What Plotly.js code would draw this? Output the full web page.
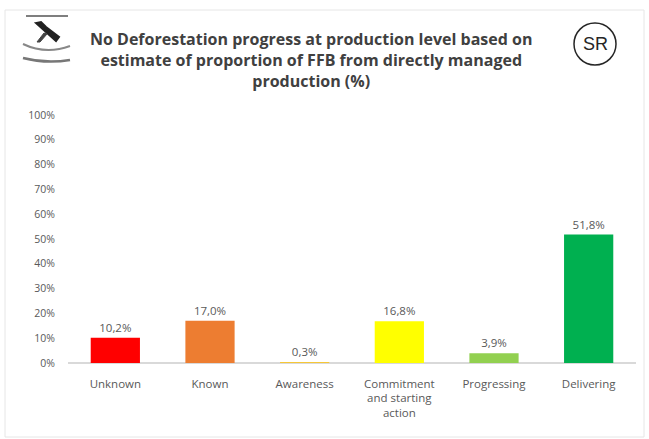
<!DOCTYPE html>
<html>
<head>
<meta charset="utf-8">
<script src="https://cdn.plot.ly/plotly-3.0.1.min.js"></script>
<style>html,body{margin:0;padding:0;background:#fff;}#chart{width:649px;height:439px;}</style>
</head>
<body>
<div id="chart"></div>
<script>
const categories = ["Unknown", "Known", "Awareness", "Commitment<br>and starting<br>action", "Progressing", "Delivering"];
const values = [0.102, 0.170, 0.003, 0.168, 0.039, 0.518];
const labels = ["10,2%", "17,0%", "0,3%", "16,8%", "3,9%", "51,8%"];
const colors = ["#FF0000", "#ED7D31", "#FFC000", "#FFFF00", "#92D050", "#00B050"];
const yTickVals = [0, 0.1, 0.2, 0.3, 0.4, 0.5, 0.6, 0.7, 0.8, 0.9, 1.0];
const yTickText = ["0%", "10%", "20%", "30%", "40%", "50%", "60%", "70%", "80%", "90%", "100%"];

const W = 568, H = 248;
function px(x) { return (x - 68) / W; }
function py(y) { return 1 + (115 - y) / H; }

const trace = {
  type: "bar",
  x: categories,
  y: values,
  marker: {color: colors},
  width: 0.52,
  text: labels,
  textposition: "outside",
  cliponaxis: false,
  textfont: {family: "Open Sans, Liberation Sans, sans-serif", size: 11.5, color: "#595959"},
  hoverinfo: "none"
};

const layout = {
  width: 649, height: 439,
  margin: {l: 68, r: 13, t: 115, b: 76},
  paper_bgcolor: "#ffffff",
  plot_bgcolor: "#ffffff",
  showlegend: false,
  font: {family: "Open Sans, Liberation Sans, sans-serif", color: "#595959"},
  xaxis: {
    showgrid: false, zeroline: false, showline: false, ticks: "",
    ticklabelstandoff: 12,
    tickfont: {size: 11.5, color: "#595959"}, fixedrange: true
  },
  yaxis: {
    range: [0, 1.0], tickvals: yTickVals, ticktext: yTickText,
    showgrid: false, zeroline: true, zerolinecolor: "#d9d9d9", zerolinewidth: 1.5,
    showline: false, ticks: "", ticklabelstandoff: 12,
    tickfont: {size: 10.5, color: "#595959"}, fixedrange: true
  },
  annotations: [
    {xref: "paper", yref: "paper", x: px(311), y: py(26), xanchor: "center", yanchor: "top",
     text: "<b>No Deforestation progress at production level based on<br>estimate of proportion of FFB from directly managed<br>production (%)</b>",
     showarrow: false, font: {size: 16, color: "#404040", family: "Open Sans, Liberation Sans, sans-serif"}},
    {xref: "paper", yref: "paper", x: px(595), y: py(44), xanchor: "center", yanchor: "middle",
     text: "SR", showarrow: false, font: {size: 18, color: "#262626", family: "Liberation Sans Narrow, Liberation Sans, sans-serif"}}
  ],
  shapes: [
    {type: "rect", xref: "paper", yref: "paper",
     x0: px(5), x1: px(644), y0: py(437), y1: py(10),
     line: {color: "#e6e6e6", width: 1}, fillcolor: "rgba(0,0,0,0)"},
    {type: "circle", xref: "paper", yref: "paper",
     x0: px(574), x1: px(616), y0: py(65), y1: py(23),
     line: {color: "#262626", width: 1.5}},
    {type: "line", xref: "paper", yref: "paper", x0: px(26), x1: px(68), y0: py(16), y1: py(16), line: {color: "#555", width: 1.5}},
    {type: "path", xref: "paper", yref: "paper",
     path: "M " + px(36) + "," + py(23) + " L " + px(56) + "," + py(41) + " L " + px(59) + "," + py(37) + " L " + px(46) + "," + py(27) + " L " + px(41) + "," + py(22) + " Z",
     fillcolor: "#222", line: {color: "#222", width: 2}},
    {type: "path", xref: "paper", yref: "paper",
     path: "M " + px(37) + "," + py(42) + " L " + px(44) + "," + py(33) + " L " + px(47) + "," + py(34) + " L " + px(40) + "," + py(42) + " Z",
     fillcolor: "#444", line: {color: "#444", width: 1}},
    {type: "path", xref: "paper", yref: "paper",
     path: "M " + px(23) + "," + py(44) + " Q " + px(46) + "," + py(55) + " " + px(70) + "," + py(46),
     line: {color: "#888", width: 2}},
    {type: "path", xref: "paper", yref: "paper",
     path: "M " + px(23) + "," + py(58) + " Q " + px(46) + "," + py(64) + " " + px(70) + "," + py(60),
     line: {color: "#777", width: 2.5}}
  ]
};

Plotly.newPlot("chart", [trace], layout, {displayModeBar: false, staticPlot: true});
</script>
</body>
</html>
